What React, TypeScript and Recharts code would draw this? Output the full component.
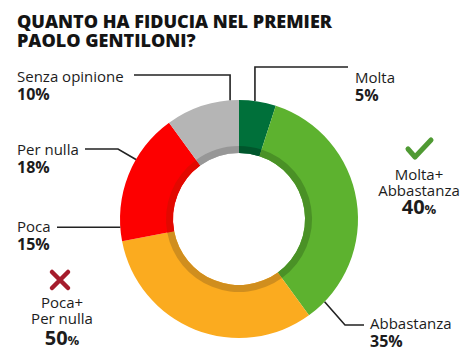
import { Pie, PieChart, Cell } from "recharts";

const CATEGORIES = ["Molta", "Abbastanza", "Poca", "Per nulla", "Senza opinione"];
const VALUES = [5, 35, 32, 18, 10];
const PRINTED_PCT = ["5%", "35%", "15%", "18%", "10%"];
const COLORS = ["#00703a", "#5db22f", "#fbab1f", "#fd0000", "#b5b5b5"];
const INNER_SHADE = ["#00562c", "#4a9126", "#d08e1e", "#e20800", "#979797"];

const GROUP_POSITIVE = ["Molta+", "Abbastanza"];
const GROUP_POSITIVE_PCT = 40;
const GROUP_NEGATIVE = ["Poca+", "Per nulla"];
const GROUP_NEGATIVE_PCT = 50;

const data = CATEGORIES.map((name, i) => ({ name, value: VALUES[i], pct: PRINTED_PCT[i] }));

const FONT = "'Open Sans', 'DejaVu Sans', sans-serif";
const RAD = Math.PI / 180;

// where each leader line touches the ring (math angle), and where its text sits
const LAYOUT = [
  { angle: 82.3, text: [355, 83], path: (ax: number, ay: number) => `M${ax},${ay} L${ax},67 L348,67` },
  { angle: -44, text: [370, 329], path: (ax: number, ay: number) => `M${ax},${ay} L345,325 L364,325` },
  { angle: 184, text: [17, 232], path: (ax: number, ay: number) => `M${ax},${ay} L57,${ay}` },
  { angle: 150, text: [17, 155], path: (ax: number, ay: number) => `M${ax},${ay} L118,149 L85,149` },
  { angle: 94.3, text: [17, 82], path: (ax: number, ay: number) => `M${ax},${ay} L${ax},75 L134,75` }
];

function SliceLabel(props: any) {
  const { cx, cy, outerRadius, index } = props;
  const l = LAYOUT[index];
  const ax = cx + outerRadius * Math.cos(l.angle * RAD);
  const ay = cy - outerRadius * Math.sin(l.angle * RAD);
  return (
    <g>
      <path d={l.path(ax, ay)} stroke="#222" strokeWidth={1.6} fill="none" />
      <text x={l.text[0]} y={l.text[1]} fontFamily={FONT} fontSize={15} fill="#1c1c1c">
        {CATEGORIES[index]}
      </text>
      <text x={l.text[0]} y={l.text[1] + 18} fontFamily={FONT} fontSize={16} fontWeight={700} fill="#1c1c1c">
        {PRINTED_PCT[index]}
      </text>
    </g>
  );
}

export default function App() {
  return (
    <div style={{ position: "absolute", left: 0, top: 0, width: 471, height: 360, background: "#fff" }}>
      <PieChart width={471} height={360} margin={{ top: 0, right: 0, bottom: 0, left: 0 }}>
        <Pie
          data={data}
          dataKey="value"
          nameKey="name"
          cx={239}
          cy={219}
          innerRadius={66}
          outerRadius={119}
          startAngle={90}
          endAngle={-270}
          stroke="none"
          label={SliceLabel}
          labelLine={false}
          isAnimationActive={false}
        >
          {data.map((d, i) => (
            <Cell key={d.name} fill={COLORS[i]} />
          ))}
        </Pie>
        <Pie
          data={data}
          dataKey="value"
          cx={239}
          cy={219}
          innerRadius={66}
          outerRadius={73}
          startAngle={90}
          endAngle={-270}
          stroke="none"
          isAnimationActive={false}
        >
          {data.map((d, i) => (
            <Cell key={d.name} fill={INNER_SHADE[i]} />
          ))}
        </Pie>
      </PieChart>
      <svg width={471} height={360} style={{ position: "absolute", left: 0, top: 0, pointerEvents: "none" }}>
        <text fontFamily={FONT} fontSize={18} fontWeight={800} fill="#141414">
          <tspan x={17} y={28}>QUANTO HA FIDUCIA NEL PREMIER</tspan>
          <tspan x={17} y={47}>PAOLO GENTILONI?</tspan>
        </text>

        <path d="M408,149 L415,157 L431,140" stroke="#4f9a33" strokeWidth={5} fill="none" strokeLinecap="round" strokeLinejoin="round" />
        <text fontFamily={FONT} fontSize={15} fill="#1c1c1c" textAnchor="middle">
          <tspan x={419} y={180}>{GROUP_POSITIVE[0]}</tspan>
          <tspan x={419} y={196}>{GROUP_POSITIVE[1]}</tspan>
        </text>
        <text x={419} y={214} fontFamily={FONT} fontWeight={700} fill="#1c1c1c" textAnchor="middle">
          <tspan fontSize={20}>{GROUP_POSITIVE_PCT}</tspan>
          <tspan fontSize={13}>%</tspan>
        </text>

        <path d="M52,272 L68,288 M68,272 L52,288" stroke="#a51c2c" strokeWidth={4.5} strokeLinecap="round" />
        <text fontFamily={FONT} fontSize={15} fill="#1c1c1c" textAnchor="middle">
          <tspan x={62} y={308}>{GROUP_NEGATIVE[0]}</tspan>
          <tspan x={62} y={324}>{GROUP_NEGATIVE[1]}</tspan>
        </text>
        <text x={62} y={345} fontFamily={FONT} fontWeight={700} fill="#1c1c1c" textAnchor="middle">
          <tspan fontSize={20}>{GROUP_NEGATIVE_PCT}</tspan>
          <tspan fontSize={13}>%</tspan>
        </text>
      </svg>
    </div>
  );
}
